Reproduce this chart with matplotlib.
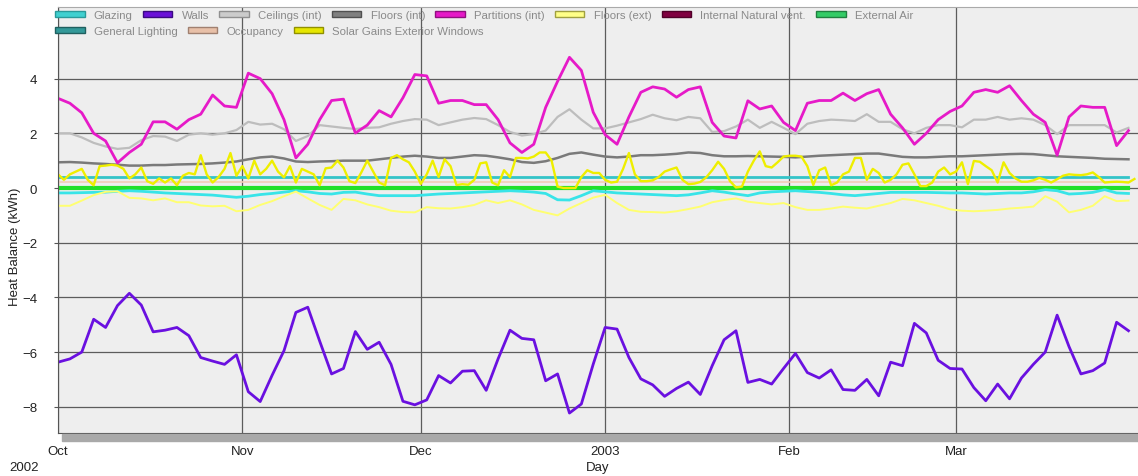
# Heat balance chart, Oct 2002 - Mar 2003
import numpy as np
import pandas as pd
import matplotlib.pyplot as plt
from matplotlib.patches import Patch, Rectangle

plt.rcParams['font.family'] = ['Liberation Sans', 'DejaVu Sans']

# Dates: most series read every 2 days, solar gains read daily
start = pd.Timestamp('2002-10-01')
days2 = pd.date_range(start, periods=91, freq='2D')
days1 = pd.date_range(start, periods=182, freq='D')

partitions = [3.28, 3.1, 2.75, 2.0, 1.72, 0.92, 1.3, 1.6, 2.42, 2.42,
              2.15, 2.5, 2.7, 3.4, 3.0, 2.95, 4.2, 4.0, 3.45, 2.5,
              1.1, 1.6, 2.5, 3.2, 3.25, 2.01, 2.3, 2.83, 2.6, 3.3,
              4.15, 4.1, 3.1, 3.2, 3.2, 3.05, 3.05, 2.5, 1.65, 1.3,
              1.6, 2.95, 3.9, 4.78, 4.3, 2.77, 1.95, 1.6, 2.6, 3.5,
              3.7, 3.62, 3.32, 3.6, 3.7, 2.4, 1.9, 1.83, 3.19, 2.89,
              3.0, 2.4, 2.1, 3.1, 3.2, 3.2, 3.47, 3.2, 3.45, 3.6,
              2.7, 2.2, 1.6, 2.0, 2.5, 2.8, 3.0, 3.5, 3.6, 3.5,
              3.74, 3.2, 2.7, 2.4, 1.2, 2.6, 3.0, 2.95, 2.95, 1.55,
              2.1]

walls = [-6.37, -6.25, -6.0, -4.8, -5.1, -4.3, -3.85, -4.28, -5.26, -5.2,
         -5.1, -5.4, -6.2, -6.33, -6.45, -6.1, -7.45, -7.81, -6.85, -5.95,
         -4.55, -4.36, -5.6, -6.8, -6.6, -5.25, -5.9, -5.64, -6.45, -7.8,
         -7.93, -7.75, -6.86, -7.13, -6.7, -6.68, -7.4, -6.25, -5.2, -5.5,
         -5.55, -7.05, -6.8, -8.23, -7.9, -6.44, -5.1, -5.16, -6.2, -6.98,
         -7.2, -7.62, -7.33, -7.1, -7.55, -6.5, -5.55, -5.22, -7.11, -7.0,
         -7.17, -6.6, -6.05, -6.75, -6.95, -6.65, -7.37, -7.4, -7.0, -7.6,
         -6.37, -6.5, -4.95, -5.3, -6.3, -6.6, -6.62, -7.3, -7.78, -7.17,
         -7.71, -6.95, -6.45, -6.0, -4.65, -5.8, -6.8, -6.68, -6.4, -4.91,
         -5.22]

ceilings = [2.0, 2.0, 1.85, 1.65, 1.52, 1.43, 1.47, 1.75, 1.9, 1.88,
            1.72, 1.95, 2.0, 1.95, 2.0, 2.12, 2.42, 2.32, 2.35, 2.15,
            1.72, 1.9, 2.3, 2.25, 2.2, 2.16, 2.2, 2.22, 2.35, 2.45,
            2.52, 2.5, 2.3, 2.4, 2.5, 2.56, 2.52, 2.3, 2.05, 1.92,
            1.97, 2.1, 2.6, 2.88, 2.5, 2.18, 2.18, 2.28, 2.4, 2.52,
            2.68, 2.55, 2.48, 2.6, 2.55, 2.05, 2.08, 2.25, 2.5, 2.2,
            2.42, 2.2, 1.97, 2.35, 2.45, 2.5, 2.48, 2.45, 2.7, 2.42,
            2.42, 2.15, 2.0, 2.2, 2.3, 2.3, 2.22, 2.5, 2.5, 2.6,
            2.5, 2.55, 2.5, 2.3, 1.97, 2.3, 2.3, 2.3, 2.3, 2.03,
            2.2]

floors_int = [0.94, 0.95, 0.93, 0.9, 0.88, 0.85, 0.82, 0.82, 0.84, 0.84,
              0.86, 0.87, 0.88, 0.9, 0.93, 0.97, 1.05, 1.12, 1.15, 1.08,
              0.97, 0.95, 0.97, 0.98, 1.0, 1.0, 1.0, 1.05, 1.1, 1.15,
              1.18, 1.15, 1.1, 1.1, 1.15, 1.2, 1.18, 1.12, 1.05, 0.95,
              0.92, 0.98, 1.1, 1.25, 1.3, 1.22, 1.15, 1.12, 1.15, 1.2,
              1.2, 1.22, 1.25, 1.3, 1.28, 1.2, 1.16, 1.16, 1.17, 1.16,
              1.15, 1.14, 1.12, 1.15, 1.18, 1.2, 1.22, 1.24, 1.26, 1.26,
              1.2, 1.14, 1.12, 1.12, 1.14, 1.16, 1.16, 1.18, 1.2, 1.22,
              1.24, 1.25, 1.24, 1.2, 1.16, 1.14, 1.12, 1.1, 1.07, 1.06,
              1.05]

floors_ext = [-0.65, -0.65, -0.46, -0.26, -0.14, -0.12, -0.36, -0.38, -0.45, -0.38,
              -0.52, -0.52, -0.64, -0.67, -0.65, -0.85, -0.8, -0.62, -0.48, -0.3,
              -0.13, -0.38, -0.62, -0.8, -0.4, -0.45, -0.6, -0.7, -0.83, -0.88,
              -0.89, -0.7, -0.74, -0.75, -0.7, -0.62, -0.45, -0.55, -0.45, -0.6,
              -0.8, -0.9, -1.0, -0.75, -0.55, -0.35, -0.25, -0.55, -0.8, -0.87,
              -0.88, -0.9, -0.85, -0.77, -0.68, -0.52, -0.44, -0.38, -0.5, -0.55,
              -0.6, -0.55, -0.7, -0.8, -0.8, -0.75, -0.68, -0.72, -0.75, -0.65,
              -0.55, -0.4, -0.45, -0.55, -0.65, -0.78, -0.83, -0.85, -0.83, -0.8,
              -0.75, -0.72, -0.68, -0.3, -0.5, -0.89, -0.8, -0.65, -0.3, -0.48,
              -0.46]

glazing = [-0.18, -0.18, -0.17, -0.16, -0.15, -0.12, -0.1, -0.12, -0.15, -0.18,
           -0.2, -0.22, -0.24, -0.26, -0.3, -0.34, -0.3, -0.24, -0.2, -0.15,
           -0.1, -0.14, -0.2, -0.22, -0.16, -0.15, -0.22, -0.28, -0.28, -0.28,
           -0.28, -0.25, -0.22, -0.2, -0.18, -0.16, -0.14, -0.12, -0.1, -0.12,
           -0.15, -0.2, -0.43, -0.44, -0.28, -0.1, -0.14, -0.18, -0.2, -0.22,
           -0.24, -0.26, -0.28, -0.25, -0.18, -0.1, -0.15, -0.22, -0.28, -0.18,
           -0.14, -0.12, -0.1, -0.13, -0.16, -0.2, -0.25, -0.28, -0.24, -0.2,
           -0.16, -0.16, -0.16, -0.16, -0.17, -0.18, -0.18, -0.2, -0.22, -0.2,
           -0.18, -0.18, -0.14, -0.06, -0.1, -0.22, -0.2, -0.16, -0.06, -0.18,
           -0.2]

solar = [0.5, 0.3, 0.5, 0.6, 0.7, 0.3, 0.1, 0.8, 0.82, 0.85,
         0.82, 0.7, 0.35, 0.5, 0.75, 0.25, 0.15, 0.35, 0.2, 0.35,
         0.1, 0.45, 0.55, 0.5, 1.2, 0.5, 0.2, 0.4, 0.7, 1.28,
         0.45, 0.8, 0.35, 1.0, 0.5, 0.7, 1.0, 0.6, 0.39, 0.8,
         0.2, 0.7, 0.6, 0.5, 0.1, 0.72, 0.75, 1.0, 0.75, 0.25,
         0.18, 0.57, 1.0, 0.6, 0.2, 0.1, 1.1, 1.2, 1.05, 0.94,
         0.6, 0.15, 0.5, 1.0, 0.4, 1.05, 0.8, 0.11, 0.14, 0.12,
         0.3, 0.9, 0.94, 0.2, 0.1, 0.65, 0.4, 1.1, 1.1, 1.08,
         1.15, 1.3, 1.3, 1.0, 0.05, 0.0, 0.0, 0.0, 0.4, 0.65,
         0.55, 0.55, 0.3, 0.2, 0.23, 0.69, 1.28, 0.5, 0.25, 0.25,
         0.28, 0.4, 0.6, 0.68, 0.75, 0.3, 0.14, 0.16, 0.22, 0.39,
         0.65, 0.96, 0.7, 0.25, 0.02, 0.05, 0.6, 1.0, 1.34, 0.8,
         0.75, 0.94, 1.15, 1.18, 1.18, 1.15, 0.8, 0.11, 0.65, 0.75,
         0.1, 0.2, 0.5, 0.6, 1.1, 1.1, 0.3, 0.7, 0.55, 0.2,
         0.3, 0.5, 0.85, 0.9, 0.5, 0.07, 0.07, 0.2, 0.6, 0.75,
         0.5, 0.6, 0.94, 0.14, 0.99, 0.96, 0.8, 0.65, 0.2, 0.94,
         0.55, 0.35, 0.23, 0.23, 0.28, 0.37, 0.3, 0.2, 0.32, 0.45,
         0.5, 0.48, 0.47, 0.5, 0.57, 0.4, 0.2, 0.22, 0.23, 0.22, 0.2, 0.33]

# flat series
lighting_level = 0.4
occupancy_level = 0.22
vent_level = 0.0
air_level = 0.0

month_ticks = pd.date_range('2002-10-01', '2003-03-01', freq='MS')
month_labels = ['Oct', 'Nov', 'Dec', '2003', 'Feb', 'Mar']
yticks = [-8, -6, -4, -2, 0, 2, 4]

W, H = 1138, 477
fig = plt.figure(figsize=(W / 100, H / 100), dpi=100)
ax = fig.add_axes([58 / W, 1 - 434 / H, 1080 / W, 426 / H])
ax.set_facecolor('#eeeeee')

flat = np.ones(len(days2))
ax.plot(days2, ceilings, color='#bdbdbd', lw=1.6)
ax.plot(days2, floors_int, color='#7a7a7a', lw=1.8)
ax.plot(days2, flat * lighting_level, color='#33c4c8', lw=2)
ax.plot(days2, flat * occupancy_level, color='#f2cdb8', lw=1.2)
ax.plot(days2, flat * vent_level, color='#800040', lw=1.5)
ax.plot(days2, flat * air_level, color='#22e02a', lw=3)
ax.plot(days2, glazing, color='#38e4e8', lw=2)
ax.plot(days2, floors_ext, color='#ffff70', lw=1.4)
ax.plot(days1, solar, color='#eeee00', lw=1.7)
ax.plot(days2, partitions, color='#e61ac8', lw=2)
ax.plot(days2, walls, color='#6a10e0', lw=2)

ax.set_xlim(start, start + pd.Timedelta(days=181.6))
ax.set_ylim(-8.96, 6.62)
ax.set_xticks(month_ticks)
ax.set_xticklabels(month_labels)
ax.set_yticks(yticks)
ax.grid(True, color='#5c5c5c', lw=0.9)
ax.set_axisbelow(True)
ax.tick_params(axis='x', length=0, pad=9, labelsize=9.5, labelcolor='#222222')
ax.tick_params(axis='y', length=3, pad=12, labelsize=9.5, labelcolor='#222222', color='#555555')
ax.spines['right'].set_visible(False)
ax.spines['top'].set_color('#aaaaaa')
ax.spines['left'].set_color('#555555')
ax.spines['bottom'].set_color('#555555')

ax.set_ylabel('Heat Balance (kWh)', fontsize=9.5, color='#222222')
ax.yaxis.set_label_coords(-0.04, 0.44)
ax.yaxis.label.set_va('center')
ax.set_xlabel('Day', fontsize=9.5, color='#222222')
ax.xaxis.set_label_coords(0.5, -0.08)
ax.xaxis.label.set_va('center')
fig.text(24 / W, 1 - 468 / H, '2002', fontsize=9.5, color='#222222', ha='center', va='center')

# scrollbar under the plot
fig.patches.append(Rectangle((62 / W, 1 - 442 / H), 1 - 62 / W, 7 / H,
                             transform=fig.transFigure, color='#a9a9a9'))

# legends
row1 = [('Glazing', '#40d0d0', '#2a9a9a'), ('Walls', '#6a10d8', '#3a0a80'),
        ('Ceilings (int)', '#cccccc', '#909090'), ('Floors (int)', '#808080', '#505050'),
        ('Partitions (int)', '#e619c8', '#901080'), ('Floors (ext)', '#ffff88', '#a0a040'),
        ('Internal Natural vent.', '#800040', '#500028'), ('External Air', '#33cc66', '#208040')]
row2 = [('General Lighting', '#339999', '#206060'), ('Occupancy', '#e8c0a8', '#a08070'),
        ('Solar Gains Exterior Windows', '#e6e600', '#909000')]

def make_legend(entries, top):
    handles = [Patch(facecolor=f, edgecolor=e, lw=1, label=n) for n, f, e in entries]
    return ax.legend(handles=handles, ncol=len(handles), loc='upper left',
                     bbox_to_anchor=(55 / W, 1 - top / H), bbox_transform=fig.transFigure,
                     frameon=False, fontsize=8.2, labelcolor='#8a8a8a', borderpad=0,
                     borderaxespad=0, handlelength=2.6, handleheight=0.5,
                     handletextpad=0.8, columnspacing=0.9)

leg1 = make_legend(row1, 11)
ax.add_artist(leg1)
make_legend(row2, 27)

fig.savefig('out.png', dpi=100, facecolor='white')
